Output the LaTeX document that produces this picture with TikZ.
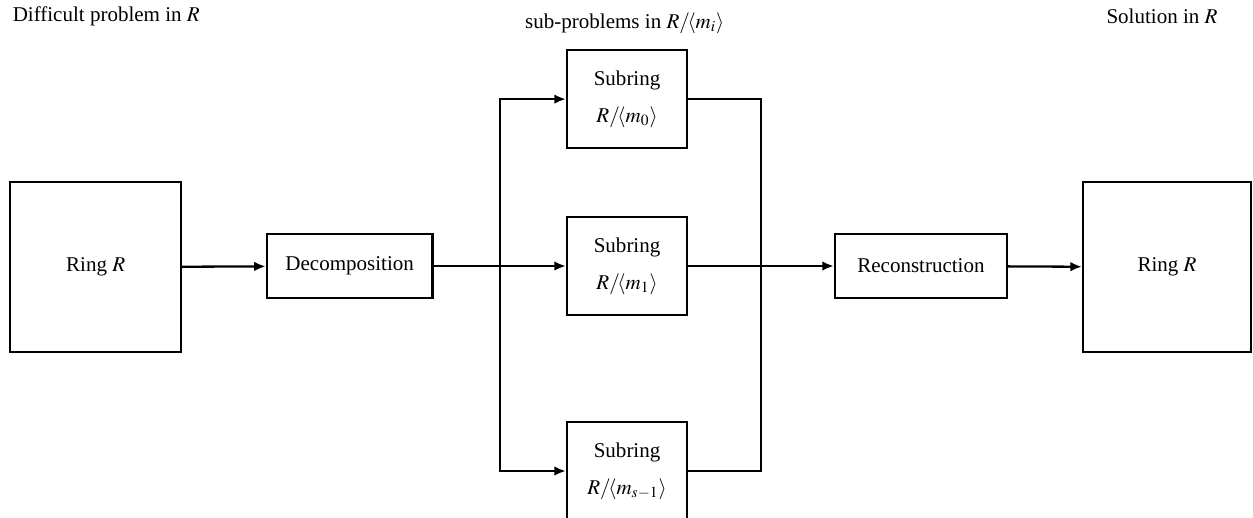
\documentclass[tikz,border=0pt]{standalone}
\usepackage{mathptmx}
\usepackage[no-math]{fontspec}
\setmainfont{Liberation Serif}
\usetikzlibrary{arrows.meta}

\tikzset{
    every node/.style={font=\fontsize{10.5}{12.6}\selectfont},
    blockbox/.style 2 args={draw, line width=1.1pt, inner sep=0pt, minimum width=#1, minimum height=#2},
    subbox/.style={blockbox={2.11cm}{1.72cm}, align=center, font=\fontsize{10.5}{18.5}\selectfont},
    link/.style={line width=1.15pt}
}

\begin{document}
\begin{tikzpicture}[>={Latex[length=5.8pt,width=4.8pt]}]
        \useasboundingbox (0,0) rectangle (22,-9.08); %画布大小
        % 上方说明文字
        \node[anchor=west] (probL) at (0.10,-0.29) {Difficult problem in $R$};
        \node (probM) at (10.97,-0.41) {sub-problems in $R/\!\langle m_i\rangle$};
        \node[anchor=east] (probR) at (21.50,-0.29) {Solution in $R$};
        % 方框
        \node[blockbox={3.0cm}{2.98cm}] (ringL) at (1.68,-4.69) {Ring $R$};
        \node[blockbox={2.91cm}{1.12cm}] (dec) at (6.14,-4.67) {Decomposition};
        \node[subbox] (sub0) at (11.01,-1.74) {Subring\\$R/\!\langle m_0\rangle$};
        \node[subbox] (sub1) at (11.01,-4.67) {Subring\\$R/\!\langle m_1\rangle$};
        \node[subbox] (sub2) at (11.01,-8.27) {Subring\\$R/\!\langle m_{s-1}\rangle$};
        \node[blockbox={3.02cm}{1.12cm}] (rec) at (16.17,-4.67) {Reconstruction};
        \node[blockbox={2.95cm}{2.98cm}] (ringR) at (20.49,-4.69) {Ring $R$};
        % 分支点与汇合点
        \coordinate (split) at (8.78,-4.67);
        \coordinate (merge) at (13.36,-4.67);
        % 连线
        \draw[link,->] (ringL) -- (dec);
        \draw[link] (dec) -- (split);
        \draw[link,->] (split) -- (sub1);
        \draw[link,->] (split) |- (sub0);
        \draw[link,->] (split) |- (sub2);
        \draw[link] (sub0) -| (merge);
        \draw[link] (sub2) -| (merge);
        \draw[link] (sub1) -- (merge);
        \draw[link,->] (merge) -- (rec);
        \draw[link,->] (rec) -- (ringR);
\end{tikzpicture}
\end{document}
